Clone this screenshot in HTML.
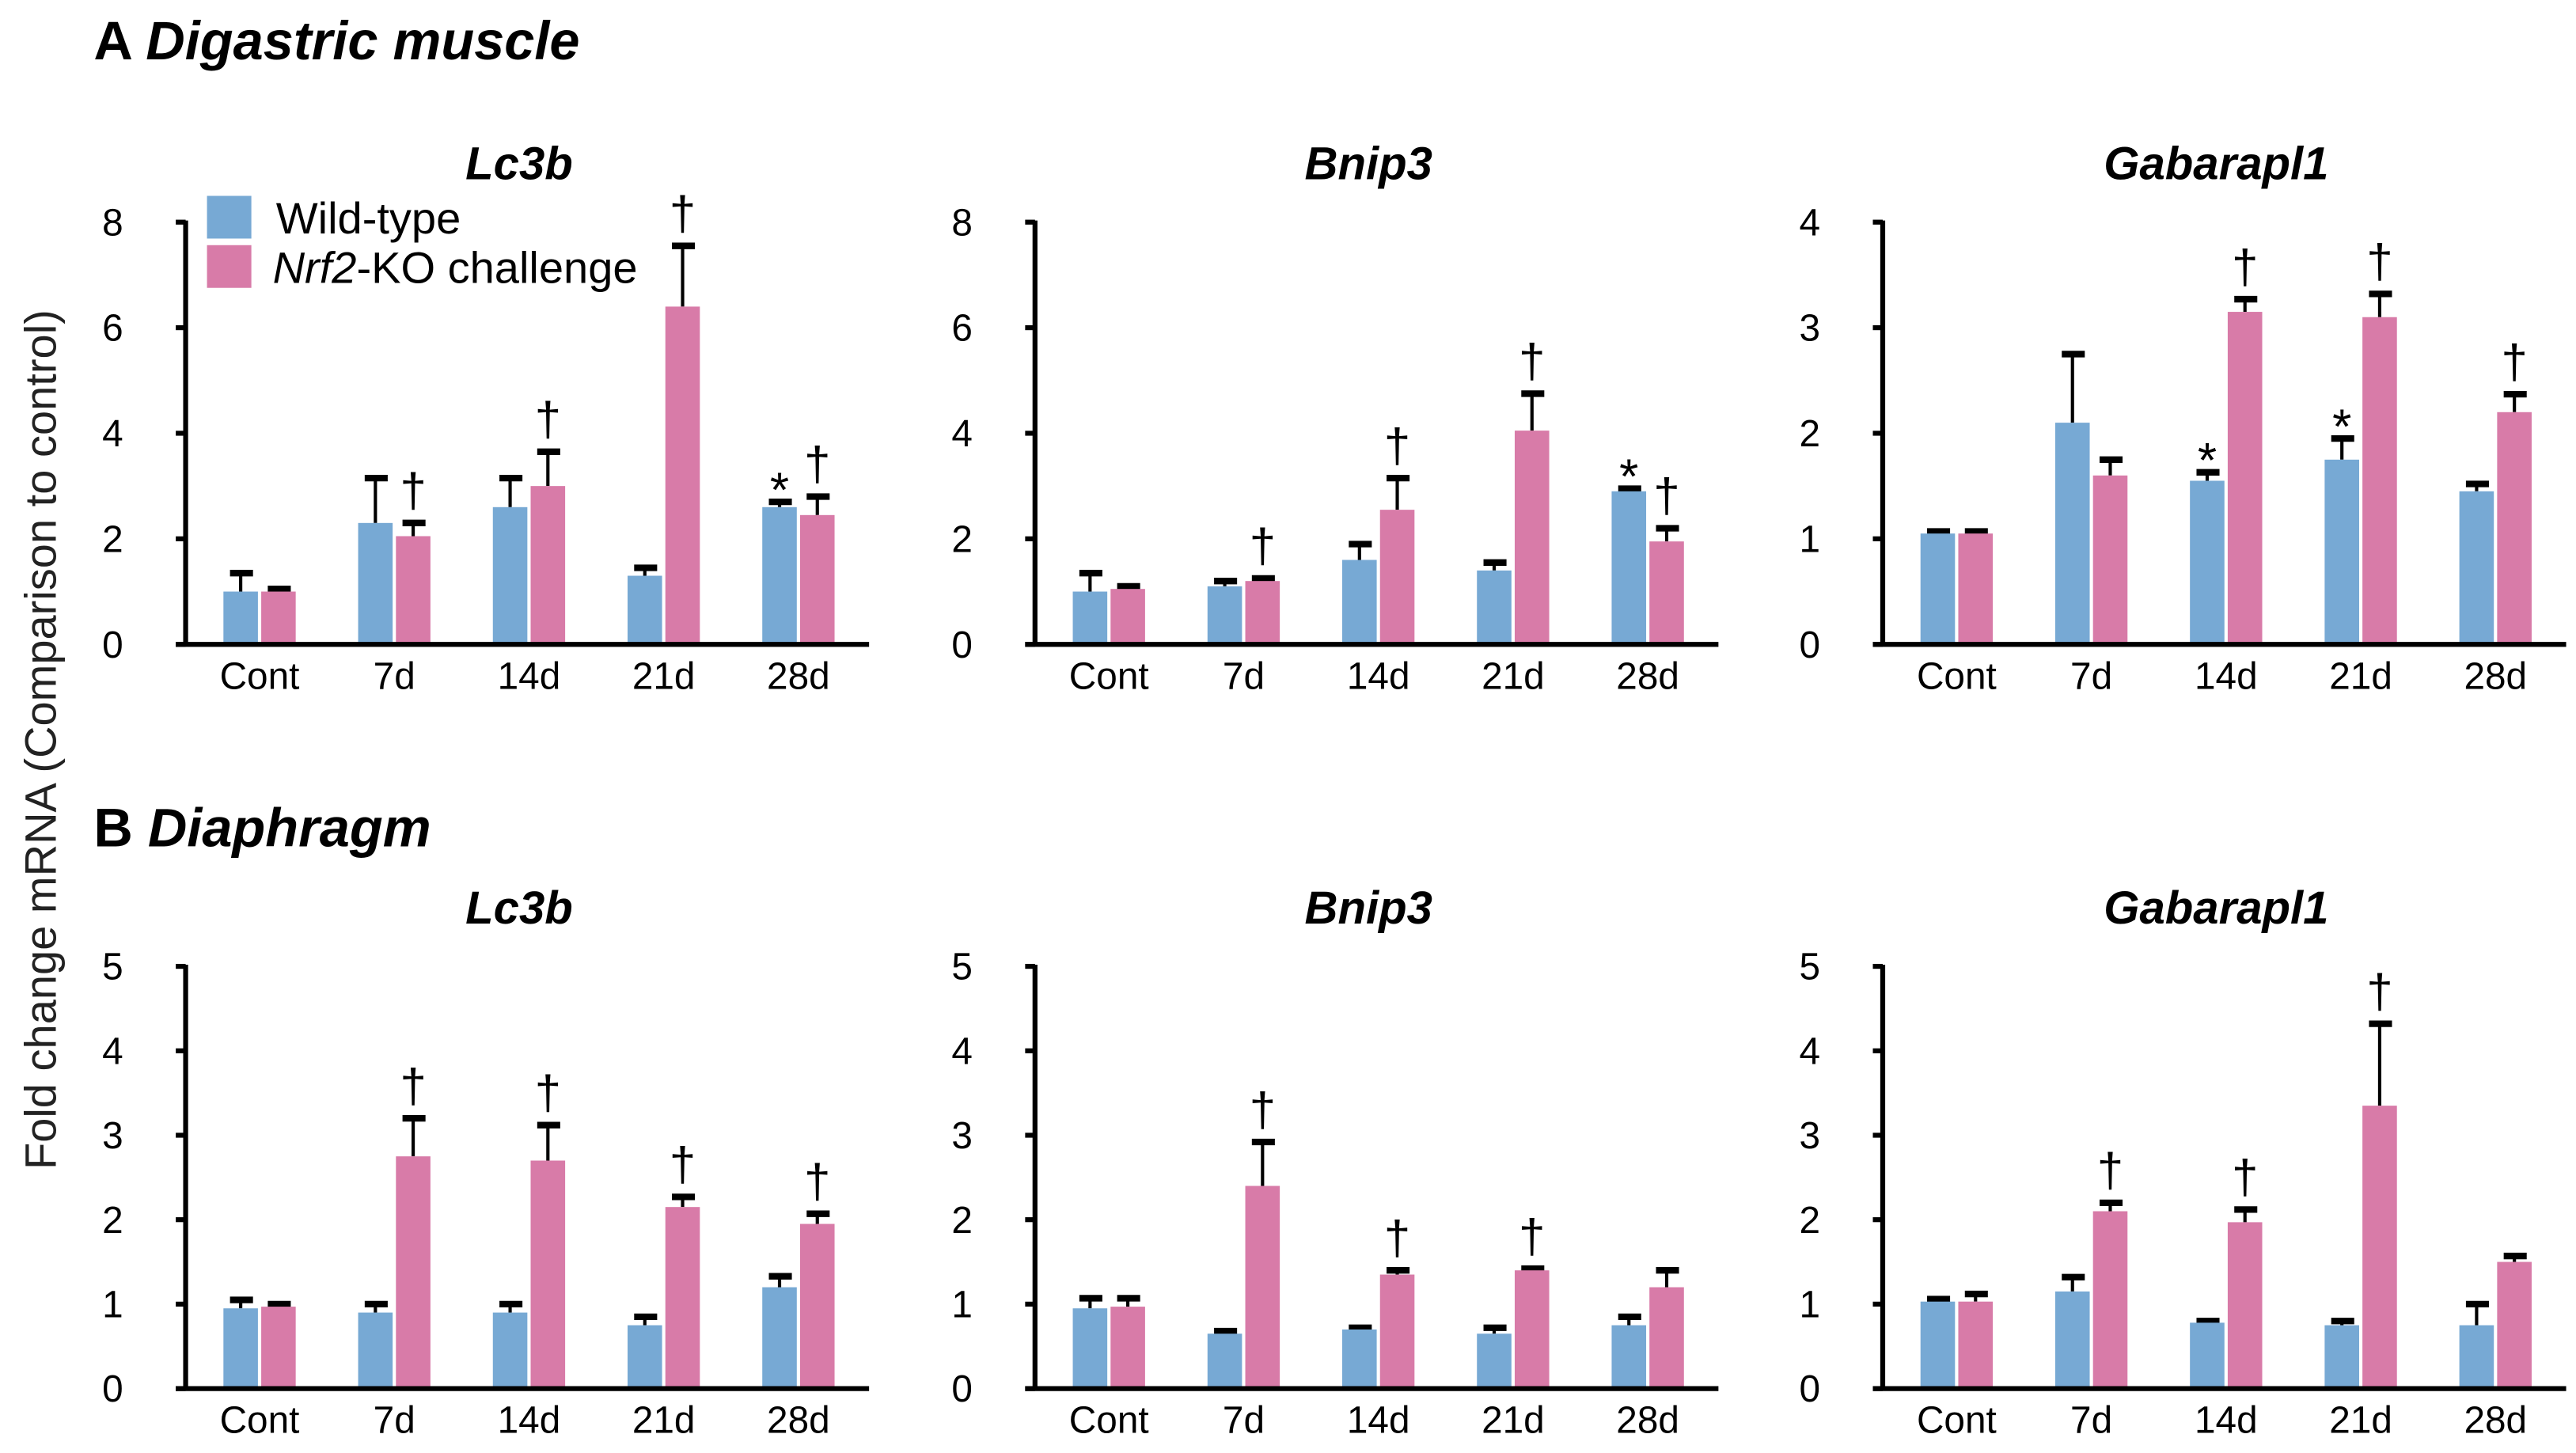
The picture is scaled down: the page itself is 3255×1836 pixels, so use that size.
<!DOCTYPE html>
<html><head><meta charset="utf-8"><style>
html,body{margin:0;padding:0;background:#fff;}
svg{display:block;}
text{font-family:"Liberation Sans",Arial,sans-serif;}
</style></head><body>
<svg id="fig" width="3255" height="1836" viewBox="0 0 1568 884">
<text x="57" y="36" font-size="33" font-weight="bold">A <tspan font-style="italic">Digastric muscle</tspan></text>
<text x="57" y="515" font-size="33" font-weight="bold">B <tspan font-style="italic">Diaphragm</tspan></text>
<text transform="translate(34,450) rotate(-90)" text-anchor="middle" font-size="27" fill="#222">Fold change mRNA (Comparison to control)</text>
<g>
<rect x="126" y="119" width="27" height="26" fill="#77a9d4"/>
<rect x="126" y="149" width="27" height="26" fill="#d87ba8"/>
<text x="168" y="142" font-size="27">Wild-type</text>
<text x="166" y="172" font-size="27"><tspan font-style="italic">Nrf2</tspan>-KO challenge</text>
</g>
</svg>
<script>
const categories = ["Cont","7d","14d","21d","28d"];
const titles = ["Lc3b","Bnip3","Gabarapl1","Lc3b","Bnip3","Gabarapl1"];
const yMaxes = [8,8,4,5,5,5];
const yStep = [2,2,1,1,1,1];
const wtVals = [[1.0,2.3,2.6,1.3,2.6],[1.0,1.1,1.6,1.4,2.9],[1.05,2.1,1.55,1.75,1.45],[0.95,0.9,0.9,0.75,1.2],[0.95,0.65,0.7,0.65,0.75],[1.03,1.15,0.78,0.75,0.75]];
const wtErr = [[1.35,3.15,3.15,1.45,2.7],[1.35,1.2,1.9,1.55,2.95],[1.07,2.75,1.63,1.95,1.52],[1.05,1.0,1.0,0.85,1.33],[1.07,0.68,0.72,0.72,0.85],[1.06,1.32,0.8,0.8,1.0]];
const koVals = [[1.0,2.05,3.0,6.4,2.45],[1.05,1.2,2.55,4.05,1.95],[1.05,1.6,3.15,3.1,2.2],[0.97,2.75,2.7,2.15,1.95],[0.97,2.4,1.35,1.4,1.2],[1.03,2.1,1.97,3.35,1.5]];
const koErr = [[1.05,2.3,3.65,7.55,2.8],[1.1,1.25,3.15,4.75,2.2],[1.07,1.75,3.27,3.32,2.37],[1.0,3.2,3.12,2.27,2.07],[1.07,2.92,1.4,1.42,1.4],[1.12,2.2,2.12,4.32,1.57]];
const koDagger = [[0,1,1,1,1],[0,1,1,1,1],[0,0,1,1,1],[0,1,1,1,1],[0,1,1,1,0],[0,1,1,1,0]];
const wtStar = [[0,0,0,0,1],[0,0,0,0,1],[0,0,1,1,0],[0,0,0,0,0],[0,0,0,0,0],[0,0,0,0,0]];

const NS="http://www.w3.org/2000/svg";
const svg=document.getElementById('fig');
function mk(tag,attrs,parent){const e=document.createElementNS(NS,tag);for(const k in attrs)e.setAttribute(k,attrs[k]);parent.appendChild(e);return e;}
const axisX=[113,630,1146];
const panelTop=[135,588], panelBase=[392,845];
for(let p=0;p<6;p++){
  const row=Math.floor(p/3), col=p%3;
  const x0=axisX[col], yb=panelBase[row], yt=panelTop[row];
  const g=mk('g',{},svg);
  
  
  const yS=v=>yb-(v/yMaxes[p])*(yb-yt);
  const xS=i=>x0+45+i*82;
  const t=mk('text',{x:x0+203,y:yt-26,'font-size':28,'font-weight':'bold','font-style':'italic','text-anchor':'middle'},g);
  t.textContent=titles[p];
  
  
  for(let i=0;i<5;i++){
    const cx=xS(i);
    [[wtVals,wtErr,'#77a9d4',-22,'wt'],[koVals,koErr,'#d87ba8',1,'ko']].forEach(([V,E,c,off,nm])=>{
      const v=V[p][i], e=E[p][i];
      const bx=cx+off;
      const ln=mk('line',{x1:bx+10.5,x2:bx+10.5,y1:yS(v),y2:yS(e),stroke:'#000','stroke-width':2},g);
      
      
      const cap=mk('line',{x1:bx+4,x2:bx+18,y1:yS(e),y2:yS(e),stroke:'#000','stroke-width':4},g);
      
      
      const r=mk('rect',{x:bx,y:yS(v),width:21,height:yb-yS(v),fill:c},g);
      
      
    });
    if(koDagger[p][i]){
      const d=mk('text',{x:cx+11.5,y:yS(koErr[p][i])-10,'font-size':29,'text-anchor':'middle'},g);
      d.textContent='†';
      
      
    }
    if(wtStar[p][i]){
      const s=mk('text',{x:cx-11.5,y:yS(wtErr[p][i])+3,'font-size':30,'text-anchor':'middle'},g);
      s.textContent='*';
      
      
    }
    const lb=mk('text',{x:cx,y:yb+27,'font-size':23,'text-anchor':'middle'},g);
    lb.textContent=categories[i];
    
    
  }
  const ya=mk('line',{x1:x0,x2:x0,y1:yt-1,y2:yb,stroke:'#000','stroke-width':3},g);
  
  
  const xa=mk('line',{x1:x0-6,x2:x0+416,y1:yb,y2:yb,stroke:'#000','stroke-width':3},g);
  
  
  for(let v=0;v<=yMaxes[p];v+=yStep[p]){
    const tk=mk('line',{x1:x0-6,x2:x0,y1:yS(v),y2:yS(v),stroke:'#000','stroke-width':3},g);
    
    
    const tl=mk('text',{x:x0-38,y:yS(v)+8,'font-size':23,'text-anchor':'end'},g);
    tl.textContent=v;
    
    
  }
}
</script>
</body></html>
